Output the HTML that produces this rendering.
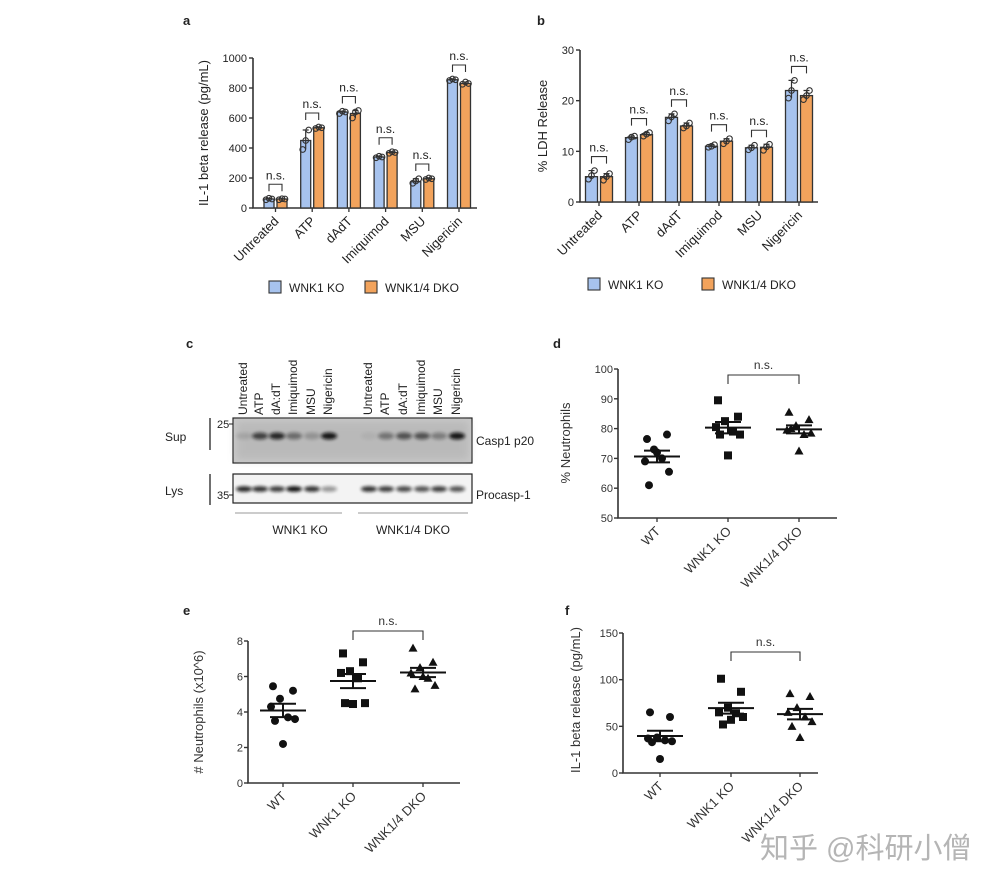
<!DOCTYPE html>
<html><head><meta charset="utf-8">
<style>
html,body{margin:0;padding:0;background:#fff;}
svg{display:block;font-family:"Liberation Sans",Arial,sans-serif;}
</style></head>
<body>
<svg id="fig" width="1000" height="881" viewBox="0 0 1000 881" xmlns="http://www.w3.org/2000/svg">
<defs>
<filter id="blur1" x="-50%" y="-200%" width="200%" height="500%"><feGaussianBlur stdDeviation="1.6"/></filter>
<filter id="blur2" x="-20%" y="-20%" width="140%" height="140%"><feGaussianBlur stdDeviation="4"/></filter>
</defs>
</svg>
<script>
// ---------- data ----------
const barCats = ["Untreated","ATP","dAdT","Imiquimod","MSU","Nigericin"];
const aKO = [60,450,640,340,175,855];
const aDKO = [60,535,630,370,195,830];
const aKOpts = [[55,65,60],[390,450,520],[630,645,640],[335,345,340],[165,180,195],[850,860,855]];
const aDKOpts = [[55,62,60],[530,540,535],[600,640,650],[365,375,370],[190,200,195],[825,840,830]];
const aTicks = [0,200,400,600,800,1000];
const bKO = [5,12.7,16.7,11,10.7,22];
const bDKO = [5,13.3,15,12,10.8,21];
const bKOpts = [[4.5,5.2,6.2],[12.3,12.8,13.0],[16,16.8,17.4],[10.8,11,11.3],[10.3,10.7,11.2],[20.5,22,24]];
const bDKOpts = [[4.3,5,5.6],[13,13.4,13.7],[14.6,15,15.6],[11.5,12,12.5],[10.2,10.9,11.4],[20.2,21,22]];
const bTicks = [0,10,20,30];
const groups = ["WT","WNK1 KO","WNK1/4 DKO"];
const dWT = [76.5,78,73,69,70,65.5,61,72];
const dKO = [89.5,84,82.5,80.5,79,78,78,71];
const dDKO = [85.5,83,81,79.5,78,78.5,80,72.5];
const dTicks = [50,60,70,80,90,100];
const eWT = [5.45,5.2,4.75,4.3,3.7,3.6,3.5,2.2];
const eKO = [7.3,6.8,6.3,6.2,5.9,4.5,4.5,4.45];
const eDKO = [7.6,6.8,6.5,6.2,5.9,5.5,5.3,6.0];
const eTicks = [0,2,4,6,8];
const fWT = [65,60,38,37,35,34,33,15];
const fKO = [101,87,70,65,64,60,52,57];
const fDKO = [85,82,70,65,60,55,50,38];
const fTicks = [0,50,100,150];
const laneLabels = ["Untreated","ATP","dA:dT","Imiquimod","MSU","Nigericin"];
const supKO = [0.12,0.7,0.85,0.45,0.22,0.95];
const supDKO = [0.05,0.4,0.6,0.6,0.35,0.95];
const lysKO = [0.9,0.85,0.8,1,0.85,0.4];
const lysDKO = [0.85,0.8,0.75,0.7,0.8,0.7];

// ---------- helpers ----------
const svg = document.getElementById('fig');
const NS = "http://www.w3.org/2000/svg";
function mk(tag, attrs, parent){
  const e = document.createElementNS(NS, tag);
  for (const k in attrs) e.setAttribute(k, attrs[k]);
  (parent||svg).appendChild(e);
  return e;
}
function txt(s, x, y, size, parent, anchor, rot, color){
  const t = mk('text', {x:x, y:y, 'font-size':size, fill:color||'#222', 'text-anchor':anchor||'start'}, parent);
  if (rot) t.setAttribute('transform', `rotate(${rot} ${x} ${y})`);
  t.textContent = s;
  return t;
}
function mean(a){return a.reduce((s,v)=>s+v,0)/a.length;}
function sem(a){const m=mean(a);const sd=Math.sqrt(a.reduce((s,v)=>s+(v-m)*(v-m),0)/(a.length-1));return sd/Math.sqrt(a.length);}

[["a",183,25],["b",537,25],["c",186,348],["d",553,348],["e",183,615],["f",565,615]].forEach(p=>{
  const t = txt(p[0],p[1],p[2],13,null,'start');
  t.setAttribute('font-weight','bold');
  
  
});

// ---------- bar chart ----------
function barChart(o){
  const g = mk('g', {});
  
  
  const y = v => o.y0 - (v - o.ymin)/(o.ymax - o.ymin)*(o.y0 - o.y1);
  const cx = i => o.xStart + i*o.step;
  const ax = mk('path', {d:`M${o.x0} ${o.y1} V${o.y0} H${o.xEnd}`, stroke:'#333', 'stroke-width':1.6, fill:'none'}, g);
  
  
  o.ticks.forEach(t=>{
    mk('line',{x1:o.x0-4,x2:o.x0,y1:y(t),y2:y(t),stroke:'#333','stroke-width':1.4},g);
    const l = txt(String(t), o.x0-6, y(t)+4, 11, g, 'end');
    
    
  });
  const yl = txt(o.ylabel, o.ylx, o.yly, 13, g, 'middle', -90);
  
  
  const bw = o.bw;
  o.cats.forEach((c,i)=>{
    [[o.s1,o.p1,o.c1,-1],[o.s2,o.p2,o.c2,1]].forEach(([s,p,col,side],k)=>{
      const bx = cx(i) + side*(o.gap/2) + (side<0 ? -bw : 0);
      const bar = mk('rect',{x:bx,y:y(s[i]),width:bw,height:o.y0-y(s[i]),fill:col,stroke:'#333','stroke-width':1.3},g);
      
      
      const mx = bx + bw/2;
      const hi = Math.max(...p[i]), lo = Math.min(...p[i]);
      mk('path',{d:`M${mx} ${y(lo)} V${y(hi)} M${mx-3} ${y(hi)} H${mx+3}`,stroke:'#333','stroke-width':1.2,fill:'none'},g);
      p[i].forEach((v,j)=>{
        const pt = mk('circle',{cx:mx+(j-1)*3,cy:y(v),r:2.8,fill:'none',stroke:'#333','stroke-width':1.1},g);
        
        
      });
    });
    const top = Math.max(...o.p1[i], ...o.p2[i], o.s1[i], o.s2[i]);
    const by = y(top) - o.brOff;
    const xl = cx(i) - o.gap/2 - bw/2, xr = cx(i) + o.gap/2 + bw/2;
    const br = mk('path',{d:`M${xl} ${by+7} V${by} H${xr} V${by+7}`,stroke:'#333','stroke-width':1.1,fill:'none'},g);
    
    
    const ns = txt('n.s.', cx(i), by-5, 12, g, 'middle');
    
    
    mk('line',{x1:cx(i),x2:cx(i),y1:o.y0,y2:o.y0+4,stroke:'#333','stroke-width':1.3},g);
    const cl = txt(c, cx(i)+4, o.y0+14, 13, g, 'end', -45);
    
    
  });
  const lg = mk('g',{},g);
  
  
  [[o.c1,'WNK1 KO',o.lx1],[o.c2,'WNK1/4 DKO',o.lx2]].forEach(([col,lab,lx])=>{
    const r = mk('rect',{x:lx,y:o.ly-11,width:12,height:12,fill:col,stroke:'#333','stroke-width':1.1},lg);
    
    
    const t = txt(lab, lx+20, o.ly, 12, lg, 'start');
    
    
  });
}
const BLUE = '#a7c3ee', ORANGE = '#f2a35c';
barChart({name:'chart-a-il1-release',cats:barCats,s1:aKO,s2:aDKO,p1:aKOpts,p2:aDKOpts,ticks:aTicks,ymin:0,ymax:1000,
  x0:253,xEnd:477,y0:208,y1:58,xStart:275.5,step:36.7,bw:10,gap:3,c1:BLUE,c2:ORANGE,brOff:14,
  ylabel:'IL-1 beta release (pg/mL)',ylx:208,yly:133,ly:292,lx1:269,lx2:365});
barChart({name:'chart-b-ldh-release',cats:barCats,s1:bKO,s2:bDKO,p1:bKOpts,p2:bDKOpts,ticks:bTicks,ymin:0,ymax:30,
  x0:580,xEnd:818,y0:202,y1:50,xStart:599,step:40,bw:12,gap:3,c1:BLUE,c2:ORANGE,brOff:14,
  ylabel:'% LDH Release',ylx:547,yly:126,ly:289,lx1:588,lx2:702});

// ---------- dot plots ----------
function dotChart(o){
  const g = mk('g', {});
  
  
  const y = v => o.y0 - (v - o.ymin)/(o.ymax - o.ymin)*(o.y0 - o.y1);
  const ax = mk('path', {d:`M${o.x0} ${o.y1} V${o.y0} H${o.xEnd}`, stroke:'#333', 'stroke-width':1.6, fill:'none'}, g);
  
  
  o.ticks.forEach(t=>{
    mk('line',{x1:o.x0-4,x2:o.x0,y1:y(t),y2:y(t),stroke:'#333','stroke-width':1.4},g);
    const l = txt(String(t), o.x0-5, y(t)+4, 11, g, 'end', 0, '#333');
    
    
  });
  const yl = txt(o.ylabel, o.ylx, o.yly, 13, g, 'middle', -90, '#333');
  
  
  const offs = [-10,10,-3,-12,5,12,-8,0];
  o.series.forEach((s,i)=>{
    const cx = o.gx[i];
    mk('line',{x1:cx,x2:cx,y1:o.y0,y2:o.y0+4,stroke:'#333','stroke-width':1.3},g);
    const cl = txt(o.cats[i], cx+4, o.y0+14, 13, g, 'end', -45, '#333');
    
    
    s.forEach((v,j)=>{
      const px = cx + offs[j], py = y(v);
      let m;
      if (i===0) m = mk('circle',{cx:px,cy:py,r:4,fill:'#111'},g);
      else if (i===1) m = mk('rect',{x:px-4,y:py-4,width:8,height:8,fill:'#111'},g);
      else m = mk('path',{d:`M${px} ${py-4.5} L${px+4.5} ${py+3.5} L${px-4.5} ${py+3.5}Z`,fill:'#111'},g);
      
      
    });
    const m = mean(s), se = sem(s);
    const ml = mk('line',{x1:cx-23,x2:cx+23,y1:y(m),y2:y(m),stroke:'#111','stroke-width':2},g);
    
    
    mk('path',{d:`M${cx} ${y(m-se)} V${y(m+se)} M${cx-13} ${y(m+se)} H${cx+13} M${cx-13} ${y(m-se)} H${cx+13}`,stroke:'#111','stroke-width':2,fill:'none'},g);
  });
  const br = mk('path',{d:`M${o.gx[1]} ${o.bry+9} V${o.bry} H${o.gx[2]} V${o.bry+9}`,stroke:'#333','stroke-width':1.1,fill:'none'},g);
  
  
  const ns = txt('n.s.', (o.gx[1]+o.gx[2])/2, o.bry-6, 12, g, 'middle', 0, '#333');
  
  
}
dotChart({name:'chart-d-percent-neutrophils',cats:groups,series:[dWT,dKO,dDKO],ticks:dTicks,ymin:50,ymax:100,
  x0:618,xEnd:837,y0:518,y1:369,gx:[657,728,799],bry:375,ylabel:'% Neutrophils',ylx:570,yly:443});
dotChart({name:'chart-e-neutrophil-count',cats:groups,series:[eWT,eKO,eDKO],ticks:eTicks,ymin:0,ymax:8,
  x0:248,xEnd:460,y0:783,y1:641,gx:[283,353,423],bry:631,ylabel:'# Neutrophils (x10^6)',ylx:203,yly:712});
dotChart({name:'chart-f-il1-release',cats:groups,series:[fWT,fKO,fDKO],ticks:fTicks,ymin:0,ymax:150,
  x0:623,xEnd:818,y0:773,y1:633,gx:[660,731,800],bry:652,ylabel:'IL-1 beta release (pg/mL)',ylx:580,yly:700});

// ---------- western blot ----------
(function(){
  const g = mk('g',{});
  
  
  const laneX = [243,259,276,293,311,328, 368,385,403,421,438,456];
  laneX.forEach((x,i)=>{
    const t = txt(laneLabels[i%6], x+4, 415, 12, g, 'start', -90, '#222');
    
    
  });
  const sup = mk('rect',{x:233,y:418,width:239,height:45,fill:'#c9c9c9',stroke:'#222','stroke-width':1.2},g);
  
  
  mk('rect',{x:236,y:421,width:233,height:39,fill:'#b0b0b0',filter:'url(#blur2)',opacity:0.6},g);
  const lys = mk('rect',{x:233,y:474,width:239,height:29,fill:'#f3f3f3',stroke:'#222','stroke-width':1.2},g);
  
  
  const supI = supKO.concat(supDKO), lysI = lysKO.concat(lysDKO);
  laneX.forEach((x,i)=>{
    const b = mk('ellipse',{cx:x+1,cy:436,rx:8,ry:3.5,fill:'#111',opacity:supI[i],filter:'url(#blur1)'},g);
    
    
    const b2 = mk('ellipse',{cx:x+1,cy:489,rx:8,ry:2.8,fill:'#111',opacity:lysI[i],filter:'url(#blur1)'},g);
    
    
  });
  mk('line',{x1:210,x2:210,y1:418,y2:450,stroke:'#222','stroke-width':1.3},g);
  mk('line',{x1:210,x2:210,y1:474,y2:505,stroke:'#222','stroke-width':1.3},g);
  txt('Sup',165,441,12,g,'start',0,'#222');
  txt('Lys',165,495,12,g,'start',0,'#222');
  txt('25',217,428,11,g,'start',0,'#222');
  mk('line',{x1:229,x2:233,y1:424,y2:424,stroke:'#222'},g);
  txt('35',217,499,11,g,'start',0,'#222');
  mk('line',{x1:229,x2:233,y1:495,y2:495,stroke:'#222'},g);
  txt('Casp1 p20',476,445,12,g,'start',0,'#222');
  txt('Procasp-1',476,499,12,g,'start',0,'#222');
  mk('line',{x1:235,x2:342,y1:513,y2:513,stroke:'#999','stroke-width':1},g);
  mk('line',{x1:358,x2:468,y1:513,y2:513,stroke:'#999','stroke-width':1},g);
  txt('WNK1 KO',300,534,12,g,'middle',0,'#222');
  txt('WNK1/4 DKO',413,534,12,g,'middle',0,'#222');
})();

const wm = txt('知乎 @科研小僧', 760, 858, 29, null, 'start', 0, '#b5b5b5');
wm.setAttribute('font-family','"Liberation Sans","Noto Sans CJK SC",sans-serif');


</script>
</body></html>
